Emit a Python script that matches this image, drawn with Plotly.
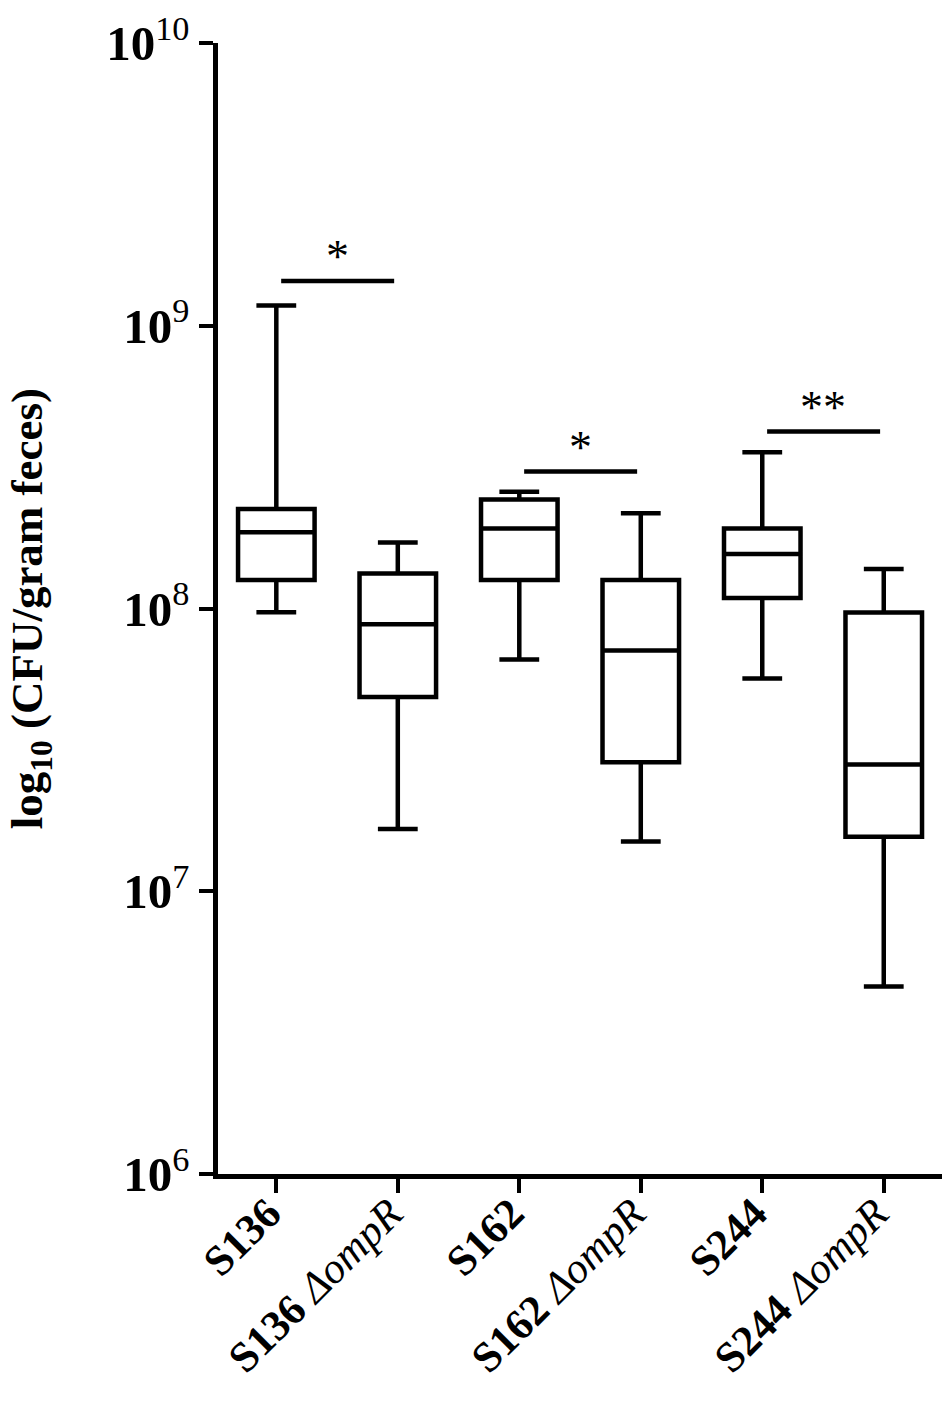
import numpy as np
import plotly.graph_objs as go

# strains, wild type and ompR mutant side by side
strains = ['S136', 'S136 ΔompR', 'S162', 'S162 ΔompR', 'S244', 'S244 ΔompR']
tick_labels = [
    '<b>S136</b>',
    '<b>S136</b> <i>ΔompR</i>',
    '<b>S162</b>',
    '<b>S162</b> <i>ΔompR</i>',
    '<b>S244</b>',
    '<b>S244</b> <i>ΔompR</i>',
]

# CFU per gram feces (min / Q1 / median / Q3 / max)
cfu_min = [9.7e7, 1.66e7, 6.6e7, 1.5e7, 5.65e7, 4.6e6]
cfu_q1 = [1.26e8, 4.86e7, 1.26e8, 2.86e7, 1.09e8, 1.56e7]
cfu_median = [1.86e8, 8.8e7, 1.92e8, 7.1e7, 1.56e8, 2.81e7]
cfu_q3 = [2.25e8, 1.33e8, 2.43e8, 1.26e8, 1.92e8, 9.67e7]
cfu_max = [1.18e9, 1.71e8, 2.59e8, 2.17e8, 3.57e8, 1.38e8]

# significance brackets: (left group, right group, height, label)
sig_left = [0, 2, 4]
sig_right = [1, 3, 5]
sig_height = [1.44e9, 3.05e8, 4.23e8]
sig_label = ['*', '*', '**']

y_tickvals = [1e6, 1e7, 1e8, 1e9, 1e10]
y_ticktext = ['<b>10</b><sup>6</sup>', '<b>10</b><sup>7</sup>', '<b>10</b><sup>8</sup>',
              '<b>10</b><sup>9</sup>', '<b>10</b><sup>10</sup>']

FONT = 'Liberation Serif, Times New Roman, serif'

data = []
for i, name in enumerate(strains):
    data.append(go.Box(
        name=name,
        x=[i],
        q1=[cfu_q1[i]],
        median=[cfu_median[i]],
        q3=[cfu_q3[i]],
        lowerfence=[cfu_min[i]],
        upperfence=[cfu_max[i]],
        width=0.63,
        whiskerwidth=0.52,
        fillcolor='white',
        line=dict(color='black', width=4.5),
        boxpoints=False,
        showlegend=False,
        hoverinfo='skip'
    ))

annotations = []
for left, right, h, lab in zip(sig_left, sig_right, sig_height, sig_label):
    data.append(go.Scatter(
        x=[left + 0.04, right - 0.03],
        y=[h, h],
        mode='lines',
        line=dict(color='black', width=4.5),
        showlegend=False,
        hoverinfo='skip'
    ))
    annotations.append(dict(
        x=(left + right) / 2,
        y=np.log10(h),
        xref='x',
        yref='y',
        text=lab,
        showarrow=False,
        yanchor='middle',
        yshift=24,
        font=dict(family=FONT, size=46, color='black')
    ))

annotations.append(dict(
    x=-0.256,
    y=0.5,
    xref='paper',
    yref='paper',
    text='<b>log<sub>10</sub> (CFU/gram feces)</b>',
    textangle=-90,
    showarrow=False,
    xanchor='center',
    yanchor='middle',
    borderpad=0,
    font=dict(family=FONT, size=45, color='black')
))

layout = go.Layout(
    width=950,
    height=1403,
    margin=dict(l=210, r=5, t=35, b=237),
    paper_bgcolor='white',
    plot_bgcolor='white',
    xaxis=dict(
        range=[-0.48, 5.57],
        tickvals=list(range(len(strains))),
        ticktext=tick_labels,
        tickangle=-45,
        ticks='outside',
        ticklen=14,
        tickwidth=4,
        tickcolor='black',
        ticklabelstandoff=-22,
        ticklabelshift=-8,
        showline=True,
        linecolor='black',
        linewidth=4.5,
        showgrid=False,
        zeroline=False,
        automargin=False,
        tickfont=dict(family=FONT, size=43, color='black')
    ),
    yaxis=dict(
        type='log',
        range=[6, 10],
        tickvals=y_tickvals,
        ticktext=y_ticktext,
        ticks='outside',
        ticklen=14,
        tickwidth=4,
        tickcolor='black',
        ticklabeloverflow='allow',
        showline=True,
        linecolor='black',
        linewidth=4.5,
        showgrid=False,
        zeroline=False,
        automargin=False,
        tickfont=dict(family=FONT, size=49, color='black')
    ),
    annotations=annotations,
    showlegend=False
)

fig = go.Figure(data=data, layout=layout)
fig.write_html('out.html')
